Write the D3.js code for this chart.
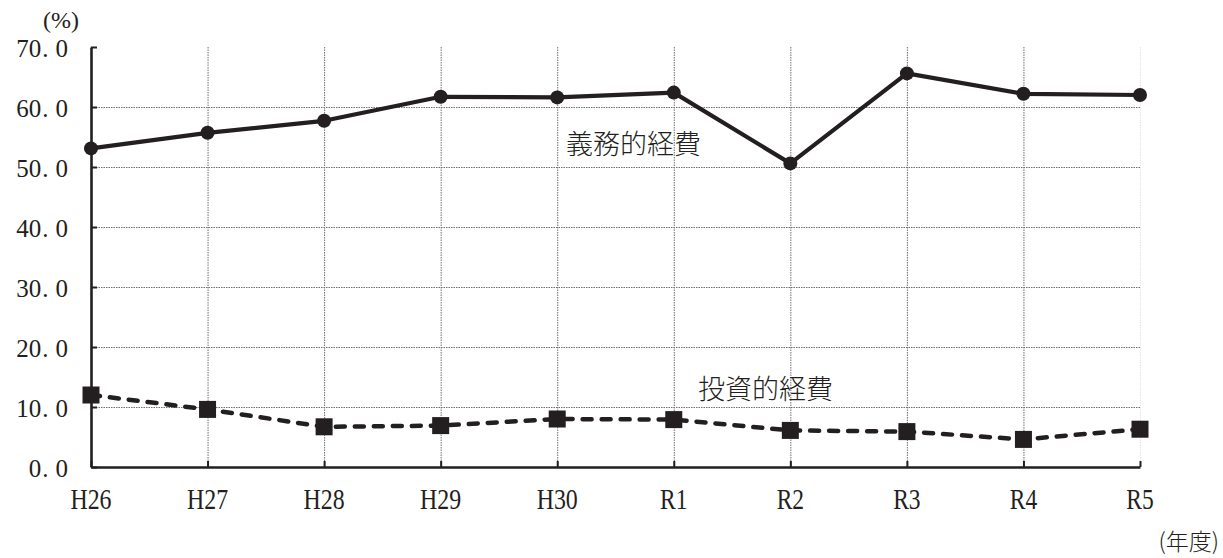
<!DOCTYPE html>
<html lang="ja">
<head>
<meta charset="utf-8">
<script src="https://cdn.jsdelivr.net/npm/d3@7"></script>
<style>
  html, body { margin: 0; padding: 0; background: #fff; }
  svg { display: block; }
</style>
</head>
<body>
<svg id="chart" width="1223" height="558"></svg>
<script>
// 年度
const categories = ["H26", "H27", "H28", "H29", "H30", "R1", "R2", "R3", "R4", "R5"];
// 義務的経費 (%)
const mandatory = [53.1, 55.7, 57.7, 61.7, 61.6, 62.4, 50.6, 65.6, 62.2, 62.0];
// 投資的経費 (%)
const investment = [12.0, 9.6, 6.7, 6.9, 8.0, 7.9, 6.1, 5.9, 4.6, 6.3];
// 縦軸目盛
const yTicks = [0, 10, 20, 30, 40, 50, 60, 70];

const svg = d3.select("#chart");
const ink = "#231f20";
const serif = "'Liberation Serif', 'DejaVu Serif', serif";
const cjk = "'Noto Sans CJK JP', 'Noto Sans CJK SC', sans-serif";

const margin = { left: 91, right: 83, top: 47, bottom: 91 };
const W = 1223, H = 558;

const x = d3.scalePoint().domain(categories).range([margin.left, W - margin.right]);
const y = d3.scaleLinear().domain([0, 70]).range([H - margin.bottom, margin.top]);

const x0 = x.range()[0], x1 = x.range()[1];
const y0 = y(0), yTop = y(70);

// dotted grid
const grid = svg.append("g").attr("fill", "none");
grid.selectAll("line.h")
  .data(yTicks.filter(d => d > 0 && d < 70))
  .join("line")
  .attr("x1", x0).attr("x2", x1)
  .attr("y1", d => y(d) + 0.5).attr("y2", d => y(d) + 0.5)
  .attr("stroke", "#6f6f6f").attr("stroke-width", 1).attr("stroke-dasharray", "1.5,1");
grid.selectAll("line.v")
  .data(categories.slice(1))
  .join("line")
  .attr("x1", d => x(d) + 0.5).attr("x2", d => x(d) + 0.5)
  .attr("y1", yTop).attr("y2", y0)
  .attr("stroke", d => d === categories[categories.length - 1] ? "#e4e4e4" : "#6f6f6f")
  .attr("stroke-width", 1).attr("stroke-dasharray", "1.5,1");

// axes
const yAxis = d3.axisLeft(y).tickValues(yTicks).tickSizeInner(-6).tickSizeOuter(0).tickFormat("");
const yg = svg.append("g").attr("transform", `translate(${x0},0)`).call(yAxis);
yg.select(".domain").attr("stroke", ink).attr("stroke-width", 2.6);
yg.selectAll(".tick line").attr("stroke", ink).attr("stroke-width", 2);

const xAxis = d3.axisBottom(x).tickSizeInner(-6).tickSizeOuter(0).tickFormat("");
const xg = svg.append("g").attr("transform", `translate(0,${y0})`).call(xAxis);
xg.select(".domain").attr("stroke", ink).attr("stroke-width", 2.6);
xg.selectAll(".tick line").attr("stroke", ink).attr("stroke-width", 2);

// y tick labels: "70.0" with a wide period cell
const yl = svg.append("g").attr("font-family", serif).attr("font-size", 25).attr("fill", ink);
yTicks.forEach(v => {
  const s = d3.format(".1f")(v).split(".");
  const t = yl.append("text")
    .attr("x", x0 - 23).attr("y", y(v) + 10)
    .attr("text-anchor", "end");
  t.append("tspan").text(s[0]);
  t.append("tspan").attr("dx", 1).text(".");
  t.append("tspan").attr("dx", 7).text(s[1]);
});

// x tick labels
svg.append("g").attr("font-family", serif).attr("font-size", 29).attr("fill", ink)
  .selectAll("text")
  .data(categories)
  .join("text")
  .attr("x", d => x(d)).attr("y", y0 + 42)
  .attr("text-anchor", "middle")
  .attr("textLength", d => d.length * 13.7)
  .attr("lengthAdjust", "spacingAndGlyphs")
  .text(d => d);

// units
svg.append("text")
  .attr("x", 61).attr("y", 28)
  .attr("text-anchor", "middle")
  .attr("font-family", serif).attr("font-size", 24).attr("fill", ink)
  .text("(%)");
svg.append("text")
  .attr("x", 1219).attr("y", 550)
  .attr("text-anchor", "end")
  .attr("font-family", cjk).attr("font-weight", 300).attr("font-size", 23).attr("fill", ink)
  .text("(年度)");

const line = d3.line().x((d, i) => x(categories[i])).y(d => y(d));

// 義務的経費
svg.append("path")
  .datum(mandatory)
  .attr("d", line)
  .attr("fill", "none").attr("stroke", ink).attr("stroke-width", 4.2)
  .attr("stroke-linejoin", "round");
svg.append("g").selectAll("circle")
  .data(mandatory)
  .join("circle")
  .attr("cx", (d, i) => x(categories[i])).attr("cy", d => y(d))
  .attr("r", 7).attr("fill", ink);

// 投資的経費
svg.append("path")
  .datum(investment)
  .attr("d", line)
  .attr("fill", "none").attr("stroke", ink).attr("stroke-width", 4.5)
  .attr("stroke-dasharray", "9,10").attr("stroke-linecap", "round");
const sq = 17;
svg.append("g").selectAll("rect")
  .data(investment)
  .join("rect")
  .attr("x", (d, i) => x(categories[i]) - sq / 2).attr("y", d => y(d) - sq / 2)
  .attr("width", sq).attr("height", sq).attr("fill", ink);

// series labels
svg.append("text")
  .attr("x", 566).attr("y", 154)
  .attr("font-family", cjk).attr("font-weight", 300).attr("font-size", 27).attr("fill", ink)
  .text("義務的経費");
svg.append("text")
  .attr("x", 698).attr("y", 399)
  .attr("font-family", cjk).attr("font-weight", 300).attr("font-size", 27).attr("fill", ink)
  .text("投資的経費");
</script>
</body>
</html>
